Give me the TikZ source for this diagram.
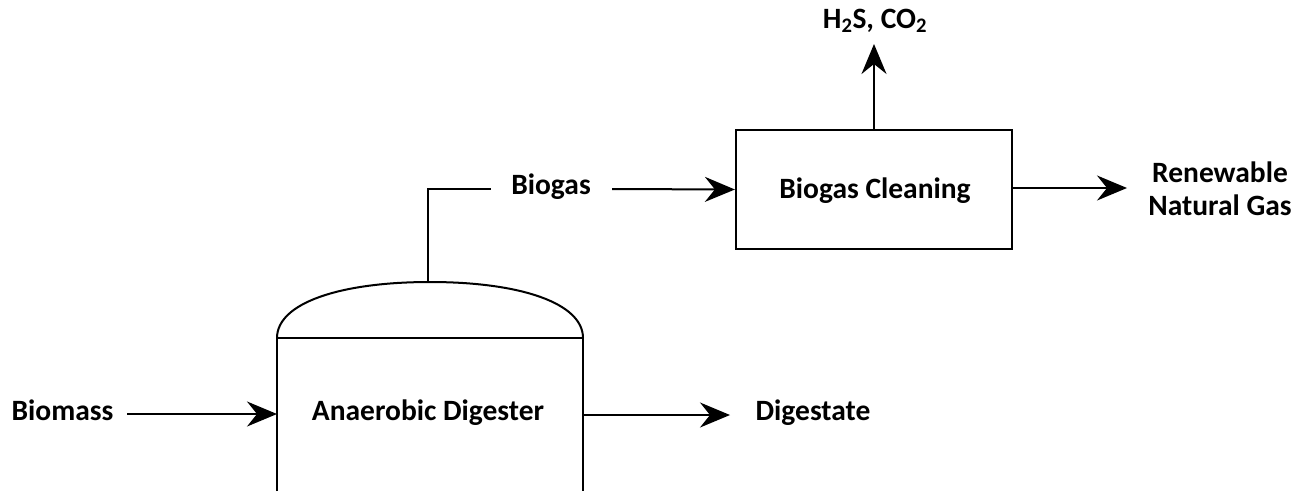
\documentclass[tikz,border=0pt]{standalone}
\usepackage{fontspec}
\setmainfont{Carlito}
\usetikzlibrary{arrows.meta}
\begin{document}
\begin{tikzpicture}[x=1pt,y=-1pt,
  lbl/.style={font=\fontsize{29.5}{33}\selectfont\bfseries, anchor=base, inner sep=0pt},
  arr/.style={line width=2pt, -{Stealth[length=30pt,width=25pt,inset=10pt]}},
  ln/.style={line width=2pt},
  boxst/.style={draw, line width=2.2pt, minimum width=276pt, minimum height=119pt, inner sep=0pt}]
\useasboundingbox (0,0) rectangle (1309,491);
% digester vessel
\coordinate (dome) at (428,282);
\coordinate (digL) at (277,414);
\coordinate (digR) at (582,415);
\draw[ln] (277,491) -- (277,338) -- (583,338) -- (583,491);
\draw[ln] (277,338) .. controls (277,303) and (340,282) .. (430,282)
                    .. controls (520,282) and (583,303) .. (583,338);
% cleaning box
\node[boxst] (clean) at (874,189.5) {};
% labels
\node[lbl] (biomass) at (62.5,420) {Biomass};
\node[lbl] (digtxt) at (428,420) {Anaerobic Digester};
\node[lbl] (digestate) at (813,420) {Digestate};
\node[lbl] (biogas) at (551,194) {Biogas};
\node[lbl] (cleantxt) at (875,198) {Biogas Cleaning};
\node[lbl] (h2s) at (875,28) {H\textsubscript{2}S, CO\textsubscript{2}};
\node[lbl] (rng1) at (1220,182) {Renewable};
\node[lbl] (rng2) at (1220,215) {Natural Gas};
% connectors
\coordinate (bmS) at (127,414);
\coordinate (dgE) at (730,415);
\coordinate (pipeE) at (491,189);
\coordinate (bgS) at (612,189);
\coordinate (upE) at (874,44);
\coordinate (rngS) at (1012,188);
\coordinate (rngE) at (1127,188);
\draw[arr] (bmS) -- (digL);
\draw[arr] (digR) -- (dgE);
\draw[ln] (dome) |- (pipeE);
\draw[arr] (bgS) -- (clean.west);
\draw[arr] (clean.north) -- (upE);
\draw[arr] (rngS) -- (rngE);
\end{tikzpicture}
\end{document}
